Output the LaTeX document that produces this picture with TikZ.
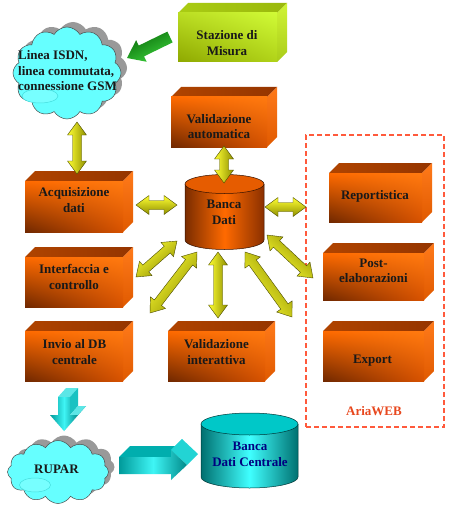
\documentclass[tikz,border=0pt]{standalone}
\usepackage{fontspec}
\setmainfont{Liberation Serif}
\usetikzlibrary{calc,shapes.symbols,shadows,shadings}

\definecolor{oF1}{HTML}{FF6A00}
\definecolor{oF2}{HTML}{FF7A10}
\definecolor{oF3}{HTML}{702800}
\definecolor{oF4}{HTML}{D85200}
\definecolor{oT1}{HTML}{B04400}
\definecolor{oT2}{HTML}{953500}
\definecolor{oS1}{HTML}{FF7A1A}
\definecolor{oS2}{HTML}{E05A00}
\definecolor{gF1}{HTML}{BADC22}
\definecolor{gF2}{HTML}{D0FA36}
\definecolor{gF3}{HTML}{8EA800}
\definecolor{gF4}{HTML}{B0D218}
\definecolor{gT1}{HTML}{AACC14}
\definecolor{gT2}{HTML}{9AB80C}
\definecolor{gS1}{HTML}{D0F436}
\definecolor{gS2}{HTML}{AACC18}
\definecolor{yA}{HTML}{FFFF33}
\definecolor{yB}{HTML}{8F8F00}
\definecolor{yD}{HTML}{4D4D00}
\definecolor{bB1}{HTML}{7A2C00}
\definecolor{bB2}{HTML}{FF6A00}
\definecolor{bB3}{HTML}{8A3000}
\definecolor{bTop}{HTML}{E65C00}
\definecolor{bLine}{HTML}{331100}
\definecolor{cB1}{HTML}{006F6F}
\definecolor{cB2}{HTML}{40FFFF}
\definecolor{cB3}{HTML}{007070}
\definecolor{cTop}{HTML}{00C8C8}
\definecolor{cLine}{HTML}{003838}
\definecolor{navyT}{HTML}{000080}
\definecolor{cloudF}{HTML}{66FFFF}
\definecolor{cloudH}{HTML}{77FFFF}
\definecolor{cloudHL}{HTML}{44DDDD}
\definecolor{ariaC}{HTML}{FF5A3C}
\definecolor{ariaT}{HTML}{E8481E}
\definecolor{grA}{HTML}{0B6E0B}
\definecolor{grB}{HTML}{3CD23C}
\definecolor{tq1}{HTML}{009A9A}
\definecolor{tq2}{HTML}{3FF5F5}
\definecolor{tq3}{HTML}{008A8A}
\definecolor{tqTop}{HTML}{5CE6E6}
\definecolor{tqSide}{HTML}{19C2C2}
\definecolor{tqDark}{HTML}{00AEAE}
\definecolor{tqHead}{HTML}{22D4D4}

\tikzset{
  frontrect/.style={rectangle, inner sep=0pt, outer sep=0pt, draw=none},
  btext/.style={font=\fontsize{13}{15.5}\selectfont\bfseries, align=center, inner sep=0pt, text=black!90},
  ofront/.style={upper left=oF1, upper right=oF2, lower left=oF3, lower right=oF4},
  otop/.style={left color=oT1, right color=oT2},
  oside/.style={top color=oS1, bottom color=oS2},
  gfront/.style={upper left=gF1, upper right=gF2, lower left=gF3, lower right=gF4},
  gtop/.style={left color=gT1, right color=gT2},
  gside/.style={top color=gS1, bottom color=gS2},
  yarr/.style={top color=yA, bottom color=yB, draw=yD, line width=0.4pt},
  garr/.style={top color=grA, bottom color=grB},
  cloudsty/.style={cloud, cloud puffs=12, cloud puff arc=120, cloud ignores aspect,
    draw=black!70, line width=0.5pt, fill=cloudF, inner sep=0pt,
    general shadow={fill=black!40, shadow xshift=6pt, shadow yshift=5pt}},
  cloudhl/.style={draw=cloudHL, fill=cloudH, line width=0.5pt},
  ariabox/.style={rectangle, draw=ariaC, line width=1.6pt, dash pattern=on 5pt off 3pt, inner sep=0pt},
  bdbody/.style={left color=bB1, right color=bB3, middle color=bB2},
  bdcbody/.style={left color=cB1, right color=cB3, middle color=cB2},
}

% cuboid: name, x1, y1, x2, y2 (front face, image coords), depth, colour prefix
\newcommand\cuboid[7]{%
  \node[frontrect, minimum width={(#4)-(#2)}, minimum height={(#5)-(#3)}] (#1) at ({((#2)+(#4))/2},{-((#3)+(#5))/2}) {};
  \shade[#7top] (#1.north west) -- ++(#6,#6) -- ($(#1.north east)+(#6,#6)$) -- (#1.north east) -- cycle;
  \shade[#7side] (#1.north east) -- ++(#6,#6) -- ($(#1.south east)+(#6,#6)$) -- (#1.south east) -- cycle;
  \shade[#7front] (#1.north west) rectangle (#1.south east);
}

% double arrow between two named coordinates, with shading angle
\newcommand\dblarrow[3]{%
  \coordinate (dp1) at ($(#1)!13pt!(#2)$);
  \coordinate (dp2) at ($(#2)!13pt!(#1)$);
  \shadedraw[yarr, shading angle=#3] (#1) -- ($(dp1)!9.5pt!90:(#1)$) -- ($(dp1)!4.5pt!90:(#1)$)
    -- ($(dp2)!4.5pt!-90:(#2)$) -- ($(dp2)!9.5pt!-90:(#2)$) -- (#2)
    -- ($(dp2)!9.5pt!90:(#2)$) -- ($(dp2)!4.5pt!90:(#2)$)
    -- ($(dp1)!4.5pt!-90:(#1)$) -- ($(dp1)!9.5pt!-90:(#1)$) -- cycle;
}

\begin{document}
\begin{tikzpicture}[x=1pt,y=1pt]
\useasboundingbox (0,0) rectangle (450,-508);
\fill[white] (0,0) rectangle (450,-508);

% AriaWEB frame
\node[ariabox, minimum width=138pt, minimum height=292pt] (aw) at (375,-281) {};
\node[btext, text=ariaT] (aw-t) at (374,-411) {AriaWEB};

% clouds
\node[cloudsty, minimum width=108pt, minimum height=92pt] (c1) at (67,-73) {};
\draw[cloudhl] ($(c1.center)+(-27,-23)$) ellipse [x radius=18, y radius=7];
\node[btext, align=left] (c1-t) at (67.5,-71) {Linea ISDN,\\linea commutata,\\connessione GSM};

\node[cloudsty, minimum width=101pt, minimum height=63pt] (rup) at (58,-472) {};
\draw[cloudhl] ($(rup.center)+(-23,-13)$) ellipse [x radius=15.5, y radius=7];
\node[btext] (rup-t) at (56.5,-469.5) {RUPAR};

% boxes
\cuboid{st}{178}{13}{277}{62}{10}{g}
\node[btext] (st-t) at (227,-43) {Stazione di\\Misura};
\cuboid{va}{171}{97}{267}{147}{10}{o}
\node[btext] (va-t) at (219,-126.5) {Validazione\\automatica};
\cuboid{aq}{25}{181}{123}{232}{10}{o}
\node[btext] (aq-t) at (74,-200) {Acquisizione\\dati};
\cuboid{ic}{25}{257}{123}{307}{10}{o}
\node[btext] (ic-t) at (74,-277) {Interfaccia e\\controllo};
\cuboid{iv}{25}{331}{123}{381}{10}{o}
\node[btext] (iv-t) at (74.5,-352) {Invio al DB\\centrale};
\cuboid{vi}{168}{331}{265}{381}{10}{o}
\node[btext] (vi-t) at (216.5,-352) {Validazione\\interattiva};
\cuboid{re}{329}{173}{422}{222}{10}{o}
\node[btext] (re-t) at (375,-196) {Reportistica};
\cuboid{pe}{323}{253}{424}{300}{10}{o}
\node[btext] (pe-t) at (373.5,-271) {Post-\\elaborazioni};
\cuboid{ex}{323}{331}{424}{381}{10}{o}
\node[btext] (ex-t) at (372.5,-360.5) {Export};

% Banca Dati cylinder
\node[frontrect, minimum width=79pt, minimum height=75pt] (bd) at (224.5,-212) {};
\shade[bdbody] ($(bd.north west)+(0,-9.5)$) -- ($(bd.south west)+(0,9.5)$)
  arc[start angle=180, end angle=360, x radius=39.5, y radius=9.5]
  -- ($(bd.north east)+(0,-9.5)$) -- cycle;
\draw[bLine, line width=0.5pt] ($(bd.north west)+(0,-9.5)$) -- ($(bd.south west)+(0,9.5)$)
  arc[start angle=180, end angle=360, x radius=39.5, y radius=9.5]
  -- ($(bd.north east)+(0,-9.5)$);
\filldraw[fill=bTop, draw=bLine, line width=0.5pt] ($(bd.north)+(0,-9.5)$) ellipse [x radius=39.5, y radius=9.5];
\node[btext] (bd-t) at (224,-212.5) {Banca\\Dati};

% Banca Dati Centrale cylinder
\node[frontrect, minimum width=97pt, minimum height=75pt] (bdc) at (249.5,-450.5) {};
\shade[bdcbody] ($(bdc.north west)+(0,-11)$) -- ($(bdc.south west)+(0,11)$)
  arc[start angle=180, end angle=360, x radius=48.5, y radius=11]
  -- ($(bdc.north east)+(0,-11)$) -- cycle;
\draw[cLine, line width=0.5pt] ($(bdc.north west)+(0,-11)$) -- ($(bdc.south west)+(0,11)$)
  arc[start angle=180, end angle=360, x radius=48.5, y radius=11]
  -- ($(bdc.north east)+(0,-11)$);
\filldraw[fill=cTop, draw=cLine, line width=0.5pt] ($(bdc.north)+(0,-11)$) ellipse [x radius=48.5, y radius=11];
\node[btext, text=navyT] (bdc-t) at (250,-454.5) {Banca\\Dati Centrale};

% green arrow Stazione -> cloud
\coordinate (gT) at (170,-37);
\coordinate (gH) at (127,-58);
\coordinate (gP) at ($(gH)!16pt!(gT)$);
\shade[garr, shading angle=26] ($(gT)!6pt!90:(gH)$) -- ($(gP)!6pt!90:(gH)$) -- ($(gP)!12pt!90:(gH)$)
  -- (gH) -- ($(gP)!12pt!-90:(gH)$) -- ($(gP)!6pt!-90:(gH)$) -- ($(gT)!6pt!-90:(gH)$) -- cycle;

% yellow double arrows
\coordinate (a1s) at (77,-122);  \coordinate (a1e) at (77,-174);
\coordinate (a2s) at (224,-146); \coordinate (a2e) at (224,-183);
\coordinate (a3s) at (136,-205); \coordinate (a3e) at (177,-205);
\coordinate (a4s) at (265,-207); \coordinate (a4e) at (306,-207);
\coordinate (a5s) at (177,-241); \coordinate (a5e) at (136,-277);
\coordinate (a6s) at (197,-252); \coordinate (a6e) at (150,-313);
\coordinate (a7s) at (218,-252); \coordinate (a7e) at (218,-318);
\coordinate (a8s) at (245,-252); \coordinate (a8e) at (292,-317);
\coordinate (a9s) at (267,-235); \coordinate (a9e) at (313,-278);
\dblarrow{a1s}{a1e}{90}
\dblarrow{a2s}{a2e}{90}
\dblarrow{a3s}{a3e}{0}
\dblarrow{a4s}{a4e}{0}
\dblarrow{a5s}{a5e}{41}
\dblarrow{a6s}{a6e}{52}
\dblarrow{a7s}{a7e}{90}
\dblarrow{a8s}{a8e}{126}
\dblarrow{a9s}{a9e}{137}

% cyan down arrow (Invio -> RUPAR)
\fill[tqTop] (58,-397) -- (70,-397) -- (78,-388) -- (66,-388) -- cycle;
\fill[tqSide] (70,-397) -- (78,-388) -- (78,-406) -- (70,-415) -- cycle;
\fill[tqTop] (70,-415) -- (78,-415) -- (86,-406) -- (78,-406) -- cycle;
\fill[tqDark] (78,-415) -- (86,-406) -- (72,-422) -- (64,-431) -- cycle;
\shade[left color=tq1, right color=tq3, middle color=tq2] (58,-397) -- (70,-397) -- (70,-415) -- (78,-415)
  -- (64,-431) -- (50,-415) -- (58,-415) -- cycle;

% cyan right arrow (RUPAR -> Banca Dati Centrale)
\fill[tqDark] (119,-457) -- (171,-457) -- (182,-446) -- (130,-446) -- cycle;
\fill[tqHead] (171,-457) -- (171,-450) -- (182,-439) -- (182,-446) -- cycle;
\fill[tqHead] (171,-450) -- (182,-439) -- (198,-454) -- (187,-465) -- cycle;
\shade[left color=tq1, right color=tq3, middle color=tq2] (119,-457) -- (171,-457) -- (171,-450) -- (187,-465)
  -- (171,-480) -- (171,-474) -- (119,-474) -- cycle;
\end{tikzpicture}
\end{document}
